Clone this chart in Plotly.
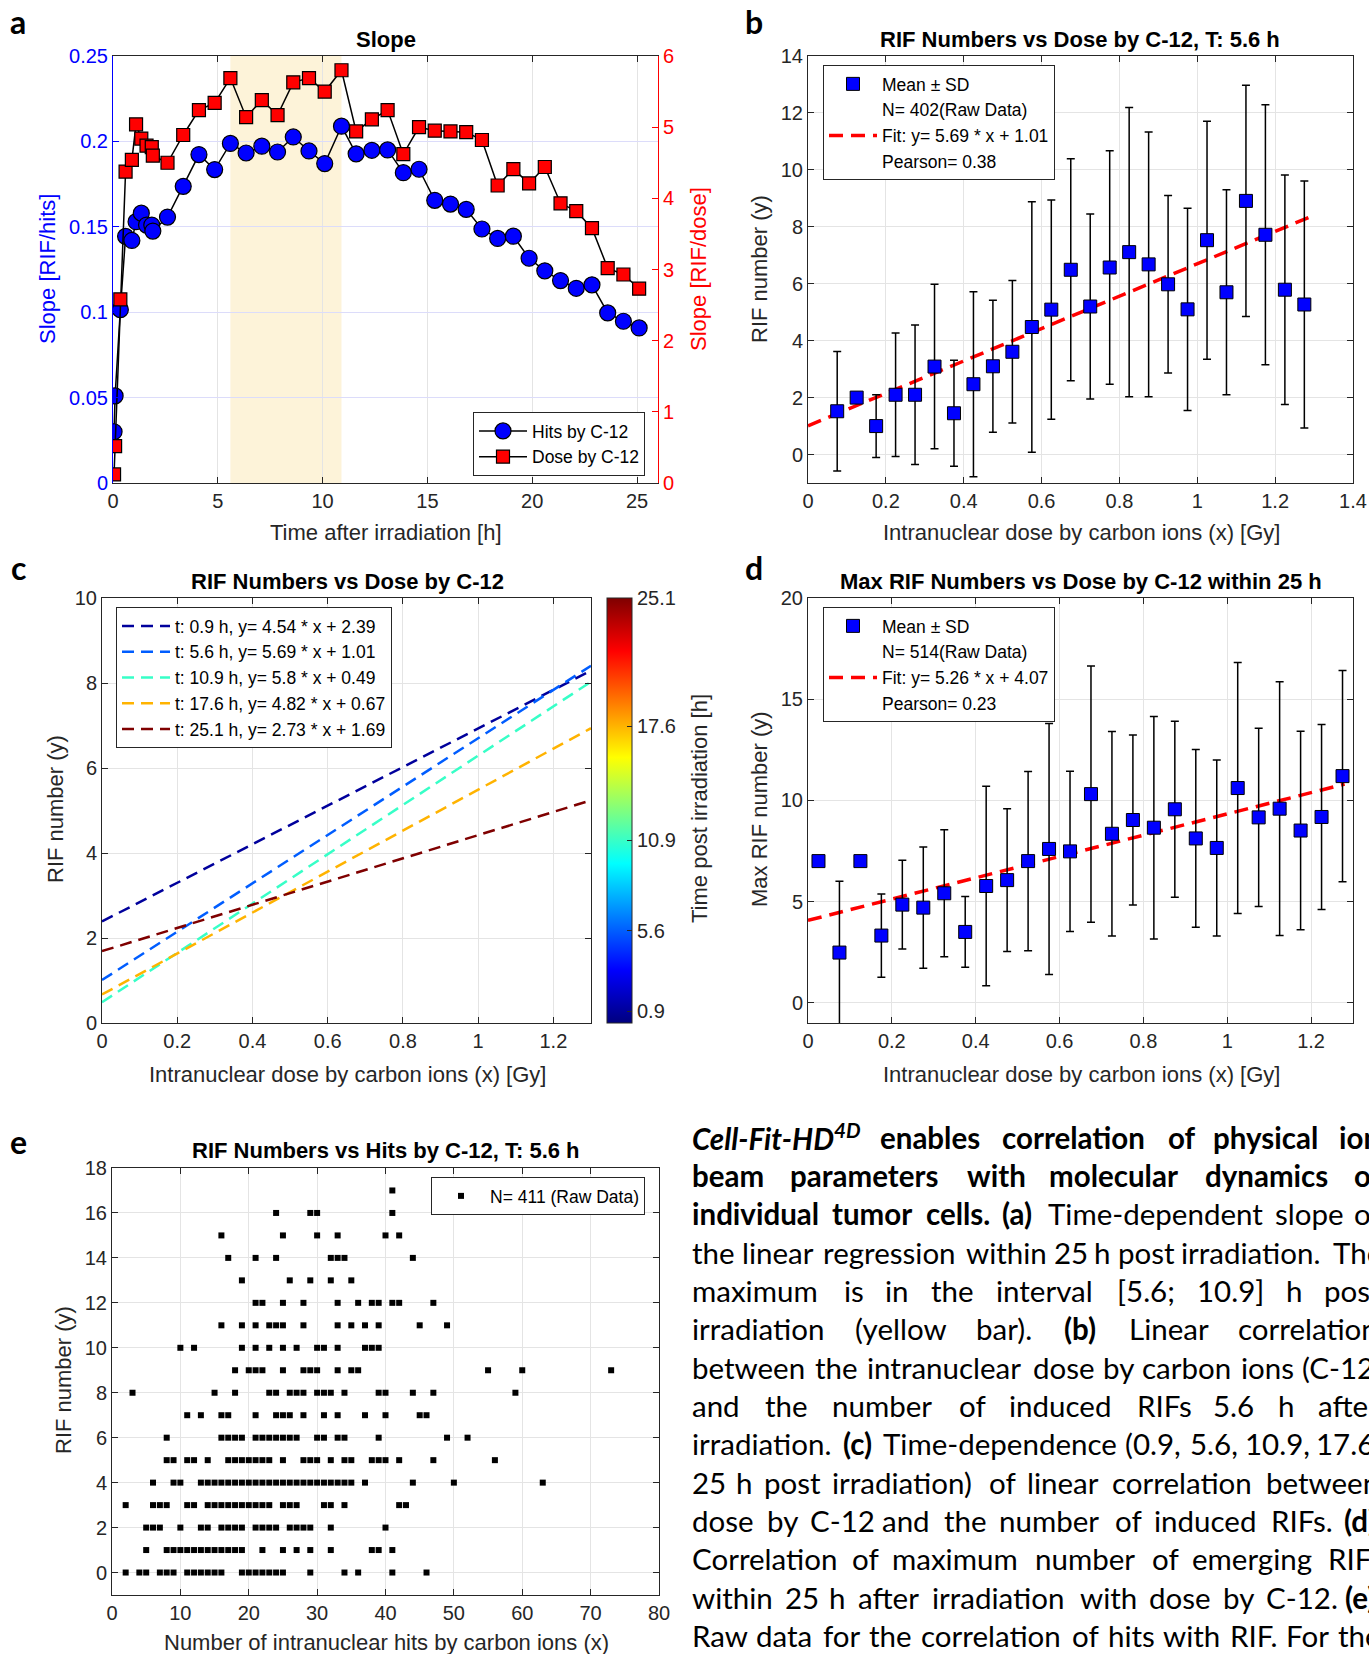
import plotly.graph_objects as go

W, H = 1369, 1654

# ---------------- data ----------------
# (a) time-dependent slope
slope_time_h = [0.05, 0.1, 0.35, 0.6, 0.9, 1.1, 1.35, 1.6, 1.85, 1.9, 2.6, 3.35, 4.1, 4.85,
                5.6, 6.35, 7.1, 7.85, 8.6, 9.35, 10.1, 10.9, 11.6, 12.35, 13.1, 13.85, 14.6,
                15.35, 16.1, 16.85, 17.6, 18.35, 19.1, 19.85, 20.6, 21.35, 22.1, 22.85, 23.6,
                24.35, 25.1]
slope_hits = [0.030, 0.051, 0.1015, 0.1444, 0.142, 0.153, 0.158, 0.151, 0.151, 0.1475, 0.1557,
              0.1737, 0.1923, 0.1835, 0.1988, 0.1932, 0.1972, 0.1938, 0.2026, 0.1944, 0.187,
              0.2089, 0.1927, 0.1948, 0.195, 0.1817, 0.1837, 0.1655, 0.1633, 0.1602, 0.1487,
              0.1432, 0.1445, 0.1316, 0.1242, 0.1185, 0.114, 0.116, 0.0996, 0.0947, 0.0908]
slope_dose = [0.12, 0.517, 2.58, 4.376, 4.54, 5.04, 4.84, 4.74, 4.72, 4.6, 4.5, 4.89, 5.24,
              5.34, 5.69, 5.14, 5.38, 5.17, 5.63, 5.69, 5.5, 5.80, 4.94, 5.11, 5.24, 4.62, 5.0,
              4.95, 4.94, 4.93, 4.82, 4.18, 4.41, 4.21, 4.44, 3.93, 3.82, 3.58, 3.02, 2.93, 2.73]
shade_start_h, shade_end_h = 5.6, 10.9

# (b) RIF vs dose at 5.6 h
b_dose_gy = [0.075, 0.125, 0.175, 0.225, 0.275, 0.325, 0.375, 0.425, 0.475, 0.525, 0.575,
             0.625, 0.675, 0.725, 0.775, 0.825, 0.875, 0.925, 0.975, 1.025, 1.075, 1.125,
             1.175, 1.225, 1.275]
b_mean = [1.52, 2.0, 1.0, 2.1, 2.1, 3.09, 1.45, 2.47, 3.1, 3.61, 4.48, 5.09, 6.49, 5.2, 6.57,
          7.11, 6.68, 5.98, 5.1, 7.53, 5.7, 8.91, 7.72, 5.79, 5.27]
b_sd = [2.1, 0.0, 1.1, 2.17, 2.45, 2.89, 1.86, 3.25, 2.32, 2.5, 4.4, 3.85, 3.9, 3.25, 4.1,
        5.08, 4.65, 3.12, 3.55, 4.18, 3.6, 4.06, 4.57, 4.03, 4.34]
b_fit_slope, b_fit_intercept = 5.69, 1.01
b_fit_x = [0.0, 1.3]
b_n, b_pearson = 402, 0.38

# (c) fits at several times
c_times_h = [0.9, 5.6, 10.9, 17.6, 25.1]
c_slopes = [4.54, 5.69, 5.8, 4.82, 2.73]
c_intercepts = [2.39, 1.01, 0.49, 0.67, 1.69]
c_fit_x = [0.0, 1.3]
c_time_min, c_time_max = 0.2, 25.1

# (d) max RIF vs dose
d_dose_gy = [0.025, 0.075, 0.125, 0.175, 0.225, 0.275, 0.325, 0.375, 0.425, 0.475, 0.525,
             0.575, 0.625, 0.675, 0.725, 0.775, 0.825, 0.875, 0.925, 0.975, 1.025, 1.075,
             1.125, 1.175, 1.225, 1.275]
d_mean = [7.0, 2.48, 7.0, 3.32, 4.85, 4.7, 5.41, 3.5, 5.77, 6.06, 7.0, 7.6, 7.48, 10.31, 8.35,
          9.03, 8.65, 9.56, 8.12, 7.65, 10.61, 9.16, 9.59, 8.51, 9.18, 11.2]
d_sd = [0.0, 3.52, 0.0, 2.06, 2.19, 3.0, 3.14, 1.75, 4.93, 3.53, 4.43, 6.2, 3.96, 6.33, 5.05,
        4.2, 5.5, 4.35, 4.39, 4.35, 6.2, 4.4, 6.27, 4.9, 4.57, 5.22]
d_fit_slope, d_fit_intercept = 5.26, 4.07
d_fit_x = [0.0, 1.28]
d_n, d_pearson = 514, 0.23

# (e) raw data: hits for each RIF count (index = RIF number)
e_hits_by_rif = [
    [2, 4, 5, 7, 8, 9, 11, 12, 13, 14, 15, 16, 19, 20, 21, 22, 23, 24, 25, 29, 34, 36, 41, 46],
    [5, 8, 9, 10, 11, 12, 13, 14, 15, 16, 17, 18, 19, 22, 25, 27, 29, 32, 38, 39, 41],
    [5, 6, 7, 10, 13, 14, 16, 17, 18, 19, 21, 22, 23, 24, 26, 27, 28, 29, 32, 40],
    [2, 6, 7, 8, 11, 12, 14, 15, 16, 17, 18, 19, 20, 21, 22, 23, 25, 26, 27, 31, 32, 34, 42, 43],
    [6, 9, 10, 13, 14, 15, 16, 17, 18, 19, 20, 21, 22, 23, 24, 25, 26, 27, 28, 29, 30, 31, 32,
     33, 34, 35, 37, 44, 50, 63],
    [8, 9, 11, 12, 14, 17, 18, 19, 20, 21, 22, 23, 25, 28, 29, 30, 32, 34, 35, 38, 39, 40, 42,
     47, 56],
    [8, 16, 17, 18, 19, 21, 22, 23, 24, 25, 26, 27, 30, 31, 33, 34, 39, 49, 52],
    [11, 13, 16, 17, 21, 24, 25, 26, 28, 31, 33, 37, 40, 45, 46],
    [3, 15, 18, 23, 24, 26, 27, 28, 30, 31, 32, 34, 39, 40, 44, 47, 59],
    [18, 20, 21, 22, 25, 28, 29, 30, 33, 35, 36, 55, 60, 73],
    [10, 12, 19, 21, 23, 25, 27, 30, 31, 33, 37, 38, 39],
    [16, 19, 21, 23, 24, 25, 28, 33, 35, 37, 39, 45, 49],
    [21, 22, 25, 28, 33, 36, 38, 39, 41, 42, 47],
    [19, 26, 29, 32, 35],
    [17, 21, 24, 32, 33, 34, 44],
    [16, 25, 30, 33, 40, 42],
    [24, 29, 30, 41],
    [41],
]
e_n = 411

CAPTION_LINES = [
    "~Cell-Fit-HD^4D *enables *correlation *of *physical *ion",
    "*beam *parameters *with *molecular *dynamics *of",
    "*individual *tumor *cells. *(a) Time-dependent slope of",
    "the linear regression within 25 h post irradiation. The",
    "maximum is in the interval [5.6; 10.9] h post",
    "irradiation (yellow bar). *(b) Linear correlation",
    "between the intranuclear dose by carbon ions (C-12)",
    "and the number of induced RIFs 5.6 h after",
    "irradiation. *(c) Time-dependence (0.9, 5.6, 10.9, 17.6,",
    "25 h post irradiation) of linear correlation between",
    "dose by C-12 and the number of induced RIFs. *(d)",
    "Correlation of maximum number of emerging RIFs",
    "within 25 h after irradiation with dose by C-12. *(e)",
    "Raw data for the correlation of hits with RIF. For the",
]

# ---------------- style helpers ----------------
FONT = "Liberation Sans"
AXC = "#262626"
GRID = "#e4e4e4"


def px(x):
    return x / W


def py(y):
    return 1 - y / H


def dom_x(l, r):
    return [l / W, r / W]


def dom_y(t, b):
    return [1 - b / H, 1 - t / H]


def jet(v):
    def c(z):
        return max(0.0, min(1.0, z))
    r = c(min(4 * v - 1.5, -4 * v + 4.5))
    g = c(min(4 * v - 0.5, -4 * v + 3.5))
    b = c(min(4 * v + 0.5, -4 * v + 2.5))
    return f"rgb({int(r*255)},{int(g*255)},{int(b*255)})"


JET = [[s, jet(s)] for s in [0, 0.125, 0.25, 0.375, 0.5, 0.625, 0.75, 0.875, 1.0]]


def axis(**kw):
    base = dict(showline=True, linewidth=1, linecolor=AXC, mirror='ticks', ticks='inside',
                ticklen=6, tickwidth=1, tickcolor=AXC, showgrid=True, gridcolor=GRID,
                gridwidth=1, zeroline=False, automargin=False,
                tickfont=dict(family=FONT, size=20, color=AXC))
    base.update(kw)
    return base


fig = go.Figure()

# ---------------- (a) ----------------
fig.add_trace(go.Scatter(
    x=slope_time_h, y=slope_hits, mode='lines+markers', name='Hits by C-12',
    line=dict(color='black', width=1.5),
    marker=dict(symbol='circle', size=16, color='#0000ff', line=dict(color='black', width=1.2)),
    xaxis='x', yaxis='y', legend='legend'))
fig.add_trace(go.Scatter(
    x=slope_time_h, y=slope_dose, mode='lines+markers', name='Dose by C-12',
    line=dict(color='black', width=1.5),
    marker=dict(symbol='square', size=13, color='#ff0000', line=dict(color='black', width=1.2)),
    xaxis='x', yaxis='y2', legend='legend'))


# ---------------- (b) / (d) helper ----------------
def errorbar_panel(xax, yax, leg, dose, mean, sd, fit_x, slope, icpt, n, pearson):
    fig.add_trace(go.Scatter(
        x=fit_x, y=[slope * x + icpt for x in fit_x], mode='lines',
        name=f"Fit: y= {slope:g} * x + {icpt:g}",
        line=dict(color='#ff0000', width=3.5, dash='14px,8px'),
        xaxis=xax, yaxis=yax, legend=leg, legendrank=3))
    fig.add_trace(go.Scatter(
        x=dose, y=mean, mode='markers', name='Mean ± SD',
        marker=dict(symbol='square', size=13, color='#0000ff', line=dict(color='black', width=1)),
        error_y=dict(type='data', array=sd, symmetric=True, color='black', thickness=1.5, width=4),
        xaxis=xax, yaxis=yax, legend=leg, legendrank=1))
    fig.add_trace(go.Scatter(
        x=[None], y=[None], mode='markers', name=f"N= {n}(Raw Data)",
        marker=dict(color='rgba(0,0,0,0)', size=1),
        xaxis=xax, yaxis=yax, legend=leg, legendrank=2))
    fig.add_trace(go.Scatter(
        x=[None], y=[None], mode='markers', name=f"Pearson= {pearson:g}",
        marker=dict(color='rgba(0,0,0,0)', size=1),
        xaxis=xax, yaxis=yax, legend=leg, legendrank=4))


errorbar_panel('x2', 'y3', 'legend2', b_dose_gy, b_mean, b_sd, b_fit_x,
               b_fit_slope, b_fit_intercept, b_n, b_pearson)

# ---------------- (c) ----------------
for t, a, b in zip(c_times_h, c_slopes, c_intercepts):
    v = (t - c_time_min) / (c_time_max - c_time_min)
    fig.add_trace(go.Scatter(
        x=c_fit_x, y=[a * x + b for x in c_fit_x], mode='lines',
        name=f"t: {t:g} h, y= {a:g} * x + {b:g}",
        line=dict(color=jet(v), width=2.5, dash='12px,7px'),
        xaxis='x3', yaxis='y4', legend='legend3'))

fig.add_trace(go.Scatter(
    x=[None], y=[None], mode='markers', showlegend=False, hoverinfo='skip',
    marker=dict(color=[c_time_min], cmin=c_time_min, cmax=c_time_max, colorscale=JET,
                showscale=True,
                colorbar=dict(thickness=25, thicknessmode='pixels', len=425, lenmode='pixels',
                              x=px(607), xanchor='left', y=py(810.5), yanchor='middle',
                              xpad=0, ypad=0, outlinecolor=AXC, outlinewidth=1,
                              tickvals=c_times_h, ticktext=[f"{t:g}" for t in c_times_h],
                              ticks='inside', ticklen=5, tickcolor=AXC,
                              tickfont=dict(family=FONT, size=20, color=AXC))),
    xaxis='x3', yaxis='y4'))

# ---------------- (d) ----------------
errorbar_panel('x4', 'y5', 'legend4', d_dose_gy, d_mean, d_sd, d_fit_x,
               d_fit_slope, d_fit_intercept, d_n, d_pearson)

# ---------------- (e) ----------------
e_x, e_y = [], []
for rif, hits in enumerate(e_hits_by_rif):
    for h in hits:
        e_x.append(h)
        e_y.append(rif)
fig.add_trace(go.Scatter(
    x=e_x, y=e_y, mode='markers', name=f"N= {e_n} (Raw Data)",
    marker=dict(symbol='square', size=6, color='black'),
    xaxis='x5', yaxis='y6', legend='legend5'))

# ---------------- axes ----------------
A = dict(x=(113, 658), y=(56, 483))
B = dict(x=(808, 1353), y=(56, 483))
C = dict(x=(102, 591), y=(598, 1023))
D = dict(x=(808, 1353), y=(598, 1023))
E = dict(x=(112, 659), y=(1168, 1595))

layout = dict(
    width=W, height=H, margin=dict(l=0, r=0, t=0, b=0),
    paper_bgcolor='white', plot_bgcolor='white', showlegend=True,
    xaxis=axis(domain=dom_x(*A['x']), range=[0, 26], tick0=0, dtick=5, anchor='y'),
    yaxis=axis(domain=dom_y(*A['y']), range=[0, 0.25], tick0=0, dtick=0.05, anchor='x',
               linecolor='#0000ff', tickcolor='#0000ff', mirror=False, gridcolor='#dcdcfa',
               tickfont=dict(family=FONT, size=20, color='#0000ff')),
    yaxis2=axis(range=[0, 6], tick0=0, dtick=1, anchor='x', overlaying='y', side='right',
                linecolor='#ff0000', tickcolor='#ff0000', mirror=False, showgrid=False,
                tickfont=dict(family=FONT, size=20, color='#ff0000')),
    xaxis2=axis(domain=dom_x(*B['x']), range=[0, 1.4], tick0=0, dtick=0.2, anchor='y3'),
    yaxis3=axis(domain=dom_y(*B['y']), range=[-1, 14], tick0=0, dtick=2, anchor='x2'),
    xaxis3=axis(domain=dom_x(*C['x']), range=[0, 1.3], tick0=0, dtick=0.2, anchor='y4'),
    yaxis4=axis(domain=dom_y(*C['y']), range=[0, 10], tick0=0, dtick=2, anchor='x3'),
    xaxis4=axis(domain=dom_x(*D['x']), range=[0, 1.3], tick0=0, dtick=0.2, anchor='y5'),
    yaxis5=axis(domain=dom_y(*D['y']), range=[-1, 20], tick0=0, dtick=5, anchor='x4'),
    xaxis5=axis(domain=dom_x(*E['x']), range=[0, 80], tick0=0, dtick=10, anchor='y6'),
    yaxis6=axis(domain=dom_y(*E['y']), range=[-1, 18], tick0=0, dtick=2, anchor='x5'),
)

leg_base = dict(bgcolor='white', bordercolor=AXC, borderwidth=1, itemwidth=48,
                font=dict(family=FONT, size=17.5, color='black'), yanchor='top')
layout['legend'] = dict(leg_base, x=px(645), xanchor='right', y=py(412))
layout['legend2'] = dict(leg_base, x=px(823), xanchor='left', y=py(65))
layout['legend3'] = dict(leg_base, x=px(116), xanchor='left', y=py(607))
layout['legend4'] = dict(leg_base, x=px(823), xanchor='left', y=py(607))
layout['legend5'] = dict(leg_base, x=px(645), xanchor='right', y=py(1177))

fig.update_layout(**layout)

fig.add_shape(type='rect', xref='x', yref='y domain', x0=shade_start_h, x1=shade_end_h,
              y0=0, y1=1, fillcolor='rgb(253,243,217)', line_width=0, layer='below')

# ---------------- text ----------------
ann = []


def text(x, y, s, size=22, color='black', angle=0, family=FONT, bold=False, anchor='center'):
    ann.append(dict(xref='paper', yref='paper', x=px(x), y=py(y), showarrow=False,
                    text=f"<b>{s}</b>" if bold else s, textangle=angle, xanchor=anchor,
                    yanchor='middle', font=dict(family=family, size=size, color=color)))


# panel letters
for letter, (lx, ly) in zip("abcde", [(18, 21), (754, 21), (18, 567), (754, 567), (18, 1141)]):
    text(lx, ly, letter, size=32, family='Lato', bold=True)

# titles
text(386, 40, "Slope", bold=True)
text(1080, 40, "RIF Numbers vs Dose by C-12, T: 5.6 h", bold=True)
text(347, 581, "RIF Numbers vs Dose by C-12", bold=True)
text(1081, 581, "Max RIF Numbers vs Dose by C-12 within 25 h", bold=True)
text(386, 1150, "RIF Numbers vs Hits by C-12, T: 5.6 h", bold=True)

# axis labels
text(386, 533, "Time after irradiation [h]", color=AXC)
text(47, 269, "Slope [RIF/hits]", color='#0000ff', angle=-90)
text(698, 269, "Slope [RIF/dose]", color='#ff0000', angle=-90)
text(1081, 533, "Intranuclear dose by carbon ions (x) [Gy]", color=AXC)
text(759, 269, "RIF number (y)", color=AXC, angle=-90)
text(347, 1074, "Intranuclear dose by carbon ions (x) [Gy]", color=AXC)
text(55, 809, "RIF number (y)", color=AXC, angle=-90)
text(699, 809, "Time post irradiation [h]", color=AXC, angle=-90)
text(1081, 1074, "Intranuclear dose by carbon ions (x) [Gy]", color=AXC)
text(759, 809, "Max RIF number (y)", color=AXC, angle=-90)
text(386, 1642, "Number of intranuclear hits by carbon ions (x)", color=AXC)
text(63, 1380, "RIF number (y)", color=AXC, angle=-90)

# caption (justified, word by word)
CAL = {' ': 0.226, 'a': 0.479, 'b': 0.525, 'c': 0.423, 'd': 0.525, 'e': 0.498, 'f': 0.305,
       'g': 0.471, 'h': 0.525, 'i': 0.229, 'j': 0.239, 'k': 0.455, 'l': 0.229, 'm': 0.799,
       'n': 0.525, 'o': 0.527, 'p': 0.525, 'q': 0.525, 'r': 0.349, 's': 0.391, 't': 0.335,
       'u': 0.525, 'v': 0.452, 'w': 0.715, 'x': 0.433, 'y': 0.453, 'z': 0.395,
       'C': 0.533, 'F': 0.459, 'H': 0.623, 'R': 0.543, 'T': 0.487, 'I': 0.252, 'D': 0.615,
       'E': 0.488, '.': 0.252, ',': 0.25, ';': 0.268, '(': 0.303, ')': 0.303, '[': 0.307,
       ']': 0.307, '-': 0.306, ':': 0.268}
for dgt in "0123456789":
    CAL[dgt] = 0.507


def em(s):
    return sum(CAL.get(ch, 0.5) for ch in s)


CAP_REF = 32.0
CAP_FONT = 29.5
CAP_L, CAP_R = 691, 1380
for i, line in enumerate(CAPTION_LINES):
    yline = 1137 + 38.35 * i
    toks = line.split(' ')
    words = []
    for tk in toks:
        style = 'bi' if tk.startswith('~') else ('b' if tk.startswith('*') else 'r')
        w = tk.lstrip('~*')
        if '^' in w:
            base, sup = w.split('^')
            wem = em(base) + 0.7 * em(sup)
            html = f"{base}<sup>{sup}</sup>"
        else:
            wem = em(w)
            html = w
        factor = 1.03 if style != 'r' else 1.0
        wpx = wem * CAP_REF * factor
        if style == 'b':
            html = f"<b>{html}</b>"
        elif style == 'bi':
            html = f"<b><i>{html}</i></b>"
        words.append((html, wpx))
    total = sum(w for _, w in words)
    gap = (CAP_R - CAP_L - total) / (len(words) - 1)
    xcur = CAP_L
    for html, wpx in words:
        ann.append(dict(xref='paper', yref='paper', x=px(xcur), y=py(yline), showarrow=False,
                        text=html, xanchor='left', yanchor='middle', borderpad=0,
                        font=dict(family='Lato', size=CAP_FONT, color='black')))
        xcur += wpx + gap

fig.update_layout(annotations=ann)

fig.write_html("out.html")
